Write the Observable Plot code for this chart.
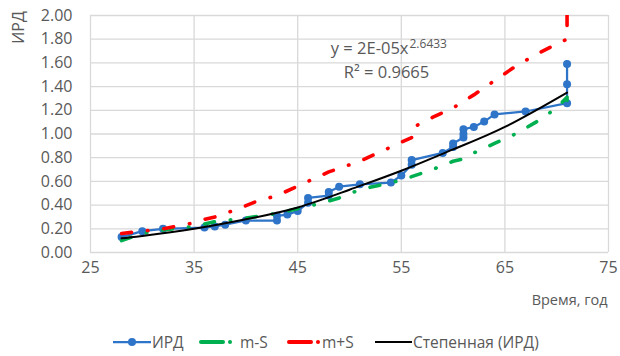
<!DOCTYPE html>
<html><head><meta charset="utf-8">
<script src="https://cdn.jsdelivr.net/npm/d3@7"></script>
<script src="https://cdn.jsdelivr.net/npm/@observablehq/plot@0.6"></script>
<style>
body{margin:0;background:#fff;font-family:"Open Sans",sans-serif;}
#wrap{position:relative;width:620px;height:356px;}
#legend{position:absolute;top:332px;left:0;width:620px;height:20px;font-size:15.5px;color:#595959;}
.item{position:absolute;top:0;height:20px;display:flex;align-items:center;white-space:nowrap;}
</style></head>
<body><div id="wrap"><div id="chart"></div><div id="legend"></div></div>
<script>
// ИРД (observed)
const irdX = [28,30,32,36,37,38,40,43,43,44,45,46,46,48,48,49,51,54,55,56,56,59,60,60,61,61,61,62,63,64,67,71,71,71];
const irdY = [0.13,0.18,0.20,0.21,0.22,0.235,0.27,0.27,0.31,0.32,0.35,0.42,0.46,0.48,0.51,0.555,0.575,0.59,0.65,0.74,0.78,0.84,0.89,0.92,0.97,1.00,1.04,1.06,1.105,1.165,1.19,1.26,1.42,1.59];
// m-S
const mSX = [28,30,32,35,37,40,43,45,47,49,51,53,55,56,58,60,61,62,64,66,68,70,71,71];
const mSY = [0.10,0.16,0.19,0.22,0.26,0.29,0.33,0.37,0.41,0.46,0.53,0.57,0.61,0.64,0.70,0.77,0.79,0.84,0.92,1.00,1.10,1.22,1.31,1.18];
// m+S
const pSX = [28,30,32,35,36,37,39,41,43,45,46,48,49,51,53,55,56,56,58,60,62,64,66,68,70,71,71];
const pSY = [0.16,0.18,0.20,0.25,0.28,0.30,0.36,0.43,0.48,0.56,0.60,0.68,0.71,0.77,0.85,0.93,0.97,1.05,1.14,1.22,1.33,1.45,1.57,1.67,1.76,1.80,2.05];
// Степенная (ИРД) trendline
const trX = [28,30,35,40,45,50,55,60,65,71];
const trY = [0.12,0.14,0.20,0.28,0.38,0.53,0.69,0.87,1.06,1.35];
// ticks and texts
const xTicks = [25,35,45,55,65,75];
const yTicks = [0,0.2,0.4,0.6,0.8,1.0,1.2,1.4,1.6,1.8,2.0];
const yLabel = "ИРД";
const xLabel = "Время, год";
const eqBase = "y = 2E-05x";
const eqExp = "2.6433";
const r2Text = "R² = 0.9665";
const seriesNames = ["ИРД","m-S","m+S","Степенная (ИРД)"];
const colors = ["#2e74c8","#00b050","#ff0000","#000000"];

const zip = (xs, ys) => xs.map((x, i) => ({x, y: ys[i]}));
const ird = zip(irdX, irdY), mS = zip(mSX, mSY), pS = zip(pSX, pSY), tr = zip(trX, trY);
const grid = "#d9d9d9";
const dash = "10,16,0.5,16";
const txt = "#595959";

const chart = Plot.plot({
  width: 620, height: 320,
  marginLeft: 90, marginRight: 12, marginTop: 15, marginBottom: 68,
  style: {fontFamily: "Open Sans", fontSize: "16px", color: txt, background: "#fff"},
  x: {domain: [25, 75]},
  y: {domain: [0, 2]},
  marks: [
    Plot.gridX(xTicks, {stroke: grid, strokeOpacity: 1, strokeWidth: 1.3}),
    Plot.gridY(yTicks, {stroke: grid, strokeOpacity: 1, strokeWidth: 1.3}),
    Plot.axisX({ticks: xTicks, tickSize: 0, tickPadding: 9, label: null, fontSize: 16}),
    Plot.axisY({ticks: yTicks, tickSize: 0, tickPadding: 18, tickFormat: d => d.toFixed(2), label: null, fontSize: 16}),
    Plot.line(ird, {x: "x", y: "y", stroke: colors[0], strokeWidth: 2.25}),
    Plot.dot(ird, {x: "x", y: "y", r: 4, fill: colors[0]}),
    Plot.line(mS, {x: "x", y: "y", stroke: colors[1], strokeWidth: 3.6, strokeDasharray: dash, strokeLinecap: "round", clip: true}),
    Plot.line(pS, {x: "x", y: "y", stroke: colors[2], strokeWidth: 3.6, strokeDasharray: dash, strokeLinecap: "round", clip: true}),
    Plot.line(tr, {x: "x", y: "y", stroke: colors[3], strokeWidth: 2, curve: "natural"}),
    Plot.text([yLabel], {frameAnchor: "top-left", dx: -72, dy: 12, rotate: -90, textAnchor: "middle", lineAnchor: "middle", fontSize: 16, fill: txt}),
    Plot.text([xLabel], {frameAnchor: "bottom-right", dx: -1, dy: 48, textAnchor: "end", lineAnchor: "middle", fontSize: 14.5, fill: txt}),
    Plot.text([eqBase], {frameAnchor: "top-left", dx: 318, dy: 33, textAnchor: "end", lineAnchor: "middle", fontSize: 16.5, fill: txt}),
    Plot.text([eqExp], {frameAnchor: "top-left", dx: 319, dy: 29, textAnchor: "start", lineAnchor: "middle", fontSize: 12, fill: txt}),
    Plot.text([r2Text], {frameAnchor: "top-left", dx: 296, dy: 57, textAnchor: "middle", lineAnchor: "middle", fontSize: 16.5, fill: txt})
  ]
});
document.getElementById("chart").appendChild(chart);

// legend
const legend = d3.select("#legend");
const items = [
  {left: 113, w: 38, text: 152},
  {left: 199, w: 34, text: 240},
  {left: 287, w: 34, text: 322},
  {left: 375, w: 37, text: 413}
];
seriesNames.forEach((name, i) => {
  const it = items[i];
  const s = legend.append("div").attr("class", "item").style("left", it.left + "px");
  const svg = s.append("svg").attr("width", it.w).attr("height", 20);
  if (i === 0) {
    svg.append("line").attr("x1", 0).attr("x2", it.w).attr("y1", 10).attr("y2", 10).attr("stroke", colors[0]).attr("stroke-width", 2.25);
    svg.append("circle").attr("cx", it.w / 2).attr("cy", 10).attr("r", 4).attr("fill", colors[0]);
  } else if (i < 3) {
    svg.append("line").attr("x1", 2).attr("x2", 2 + 22).attr("y1", 10).attr("y2", 10).attr("stroke", colors[i]).attr("stroke-width", 4).attr("stroke-linecap", "round");
    svg.append("circle").attr("cx", 31).attr("cy", 10).attr("r", 2).attr("fill", colors[i]);
  } else {
    svg.append("line").attr("x1", 0).attr("x2", it.w).attr("y1", 10).attr("y2", 10).attr("stroke", colors[3]).attr("stroke-width", 2);
  }
  legend.append("div").attr("class", "item").style("left", it.text + "px").text(name);
});
</script></body></html>
